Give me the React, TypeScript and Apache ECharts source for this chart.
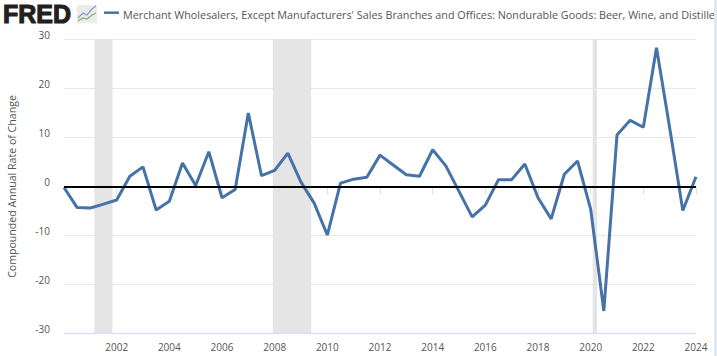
import React, { useEffect, useRef } from "react";
import * as echarts from "echarts";

const years = [
  2000, 2000.5, 2001, 2001.5, 2002, 2002.5, 2003, 2003.5, 2004, 2004.5, 2005, 2005.5, 2006, 2006.5, 2007, 2007.5,
  2008, 2008.5, 2009, 2009.5, 2010, 2010.5, 2011, 2011.5, 2012, 2012.5, 2013, 2013.5, 2014, 2014.5, 2015, 2015.5,
  2016, 2016.5, 2017, 2017.5, 2018, 2018.5, 2019, 2019.5, 2020, 2020.5, 2021, 2021.5, 2022, 2022.5, 2023, 2023.5, 2024,
];
const values = [
  -0.2, -4.3, -4.4, -3.6, -2.75, 2.1, 4.0, -4.8, -3.0, 4.8, 0.2, 7.1, -2.3, -0.6, 15.0, 2.2,
  3.3, 6.8, 0.9, -3.4, -9.9, 0.7, 1.5, 1.9, 6.4, 4.4, 2.4, 2.1, 7.5, 4.2, -1.0, -6.2,
  -3.8, 1.4, 1.4, 4.6, -2.3, -6.6, 2.5, 5.2, -4.6, -25.4, 10.5, 13.5, 12.1, 28.3, 12.0, -4.9, 2.0,
];
const tickYears = [2002, 2004, 2006, 2008, 2010, 2012, 2014, 2016, 2018, 2020, 2022, 2024];
const recessions = [
  [2001.15, 2001.84],
  [2007.93, 2009.39],
  [2020.08, 2020.24],
];
const title =
  "Merchant Wholesalers, Except Manufacturers' Sales Branches and Offices: Nondurable Goods: Beer, Wine, and Distille";
const yTitle = "Compounded Annual Rate of Change";
const font = "'Open Sans', sans-serif";

export default function App() {
  const ref = useRef<HTMLDivElement>(null);
  useEffect(() => {
    const chart = echarts.init(ref.current!, undefined, { renderer: "svg" });
    chart.setOption({
      animation: false,
      backgroundColor: "#fff",
      textStyle: { fontFamily: font },
      grid: { left: 64, right: 21, top: 39.5, bottom: 22.5, containLabel: false, outerBoundsMode: "none" },
      xAxis: {
        type: "value",
        min: 2000,
        max: 2024,
        interval: 2,
        axisLine: { show: false },
        axisTick: { show: true, length: 8, customValues: tickYears, lineStyle: { color: "#d8e2f0", width: 1 } },
        splitLine: { show: false },
        axisLabel: {
          color: "#555",
          fontSize: 10,
          margin: 8,
          customValues: tickYears,
          formatter: (v: number) => String(v),
          hideOverlap: false,
        },
      },
      yAxis: {
        type: "value",
        min: -30,
        max: 30,
        interval: 10,
        axisLine: { show: false },
        axisTick: { show: false },
        splitLine: { show: true, lineStyle: { color: "#e8e8e8", width: 1 } },
        axisLabel: { color: "#555", fontSize: 10, margin: 14, verticalAlign: "bottom", lineHeight: 10 },
        name: yTitle,
        nameLocation: "middle",
        nameGap: 47,
        nameTextStyle: { color: "#555", fontSize: 10.6 },
      },
      series: [
        {
          type: "line",
          data: years.map((y, i) => [y, values[i]]),
          showSymbol: false,
          symbol: "none",
          clip: false,
          lineStyle: { color: "#4572a7", width: 3, join: "bevel", cap: "butt" },
          z: 3,
          markArea: {
            silent: true,
            itemStyle: { color: "#e5e5e5" },
            label: { show: false },
            data: recessions.map(([a, b]) => [{ xAxis: a, yAxis: -30 }, { xAxis: b, yAxis: 30 }]),
            z: 1,
          },
          markLine: {
            silent: true,
            symbol: "none",
            label: { show: false },
            lineStyle: { color: "#000", width: 2, type: "solid" },
            data: [{ yAxis: 0 }],
            z: 5,
          },
        },
      ],
      graphic: [
        { type: "line", z: 4, shape: { x1: 64, y1: 333.5, x2: 696, y2: 333.5 }, style: { stroke: "#d8e2f0", lineWidth: 1.5 } },
        { type: "rect", z: 10, shape: { x: 714, y: 0, width: 3, height: 356 }, style: { fill: "#e1e9f0" } },
        {
          type: "text", z: 6, x: 3, y: 14,
          style: { text: "FRED", font: "900 25px 'Liberation Sans', Arial, sans-serif", fill: "#231f20", stroke: "#231f20", lineWidth: 1.1, verticalAlign: "middle" },
        },
        { type: "rect", z: 6, shape: { x: 77, y: 5, width: 20, height: 18 }, style: { fill: "#ececec" } },
        { type: "polyline", z: 7, shape: { points: [[78, 18], [83, 13], [87, 15], [92, 9], [96, 6]] }, style: { stroke: "#7f9fc4", fill: "none", lineWidth: 1.2 } },
        { type: "polyline", z: 7, shape: { points: [[78, 21], [83, 18], [87, 19], [92, 15], [96, 13]] }, style: { stroke: "#86b060", fill: "none", lineWidth: 1.2 } },
        { type: "line", z: 6, shape: { x1: 104, y1: 12.7, x2: 119, y2: 12.7 }, style: { stroke: "#4572a7", lineWidth: 2.5 } },
        {
          type: "text", z: 6, x: 123, y: 14,
          style: { text: title, font: `10.8px ${font}`, fill: "#555", verticalAlign: "middle" },
        },
      ],
    });
    return () => chart.dispose();
  }, []);
  return <div ref={ref} style={{ position: "fixed", left: 0, top: 0, width: 717, height: 356 }} />;
}
